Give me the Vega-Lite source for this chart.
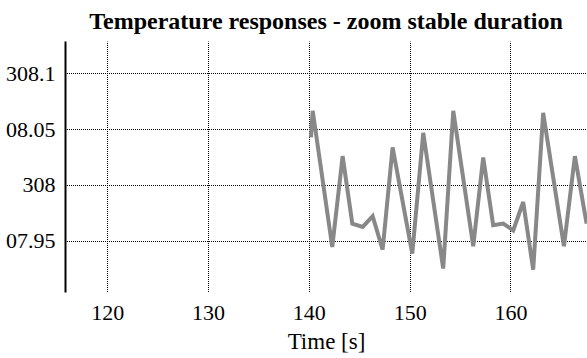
{
  "$schema": "https://vega.github.io/schema/vega-lite/v6.json",
  "width": 522,
  "height": 251,
  "autosize": {"type": "none"},
  "padding": {"left": 65, "top": 41, "right": 0, "bottom": 66},
  "background": "white",
  "title": {
    "text": "Temperature responses - zoom stable duration",
    "font": "Liberation Serif",
    "fontSize": 24,
    "fontWeight": "bold",
    "color": "black",
    "anchor": "middle",
    "offset": 7
  },
  "config": {
    "view": {"stroke": null},
    "axis": {
      "labelFont": "Liberation Serif",
      "labelFontSize": 22,
      "labelColor": "black",
      "titleFont": "Liberation Serif",
      "titleFontSize": 23,
      "titleFontWeight": "normal",
      "titleColor": "black",
      "gridColor": "black",
      "gridDash": [1, 1],
      "gridDashOffset": 0.5,
      "gridWidth": 1,
      "gridOpacity": 1,
      "ticks": false
    }
  },
  "datasets": {
    "temp": [
      {"t": 140.21, "T": 308.0426},
      {"t": 140.38, "T": 308.0664},
      {"t": 142.32, "T": 307.9443},
      {"t": 143.35, "T": 308.0258},
      {"t": 144.31, "T": 307.9653},
      {"t": 145.34, "T": 307.9623},
      {"t": 146.33, "T": 307.9719},
      {"t": 147.32, "T": 307.942},
      {"t": 148.31, "T": 308.0336},
      {"t": 150.26, "T": 307.9384},
      {"t": 151.35, "T": 308.0467},
      {"t": 153.33, "T": 307.925},
      {"t": 154.33, "T": 308.0664},
      {"t": 156.31, "T": 307.945},
      {"t": 157.30, "T": 308.0246},
      {"t": 158.29, "T": 307.9638},
      {"t": 159.29, "T": 307.9653},
      {"t": 160.28, "T": 307.9593},
      {"t": 161.27, "T": 307.9847},
      {"t": 162.26, "T": 307.924},
      {"t": 163.25, "T": 308.0646},
      {"t": 165.31, "T": 307.945},
      {"t": 166.40, "T": 308.0258},
      {"t": 167.56, "T": 307.9653}
    ]
  },
  "layer": [
    {
      "data": {"name": "temp"},
      "mark": {"type": "line", "color": "#888888", "strokeWidth": 4, "clip": true},
      "encoding": {
        "x": {
          "field": "t",
          "type": "quantitative",
          "scale": {"domain": [115.8, 167.6], "nice": false, "zero": false},
          "axis": {
            "title": "Time [s]",
            "values": [120, 130, 140, 150, 160],
            "format": "d",
            "domain": false,
            "labelFont": "Liberation Serif",
            "titleFont": "Liberation Serif",
            "labelPadding": 10,
            "titlePadding": 7
          }
        },
        "y": {
          "field": "T",
          "type": "quantitative",
          "scale": {"domain": [307.904, 308.129], "nice": false, "zero": false},
          "axis": {
            "title": null,
            "values": [307.95, 308, 308.05, 308.1],
            "labelExpr": "datum.value == 308.05 ? '08.05' : datum.value == 307.95 ? '07.95' : format(datum.value, '.5~r')",
            "labelFont": "Liberation Serif",
            "domainColor": "black",
            "domainWidth": 2,
            "labelPadding": 10
          }
        }
      }
    },
    {
      "mark": {"type": "rule", "color": "black", "strokeWidth": 4, "strokeDash": [19, 4.5]},
      "encoding": {"y": {"datum": 308}}
    },
    {
      "mark": {"type": "rule", "color": "black", "strokeWidth": 2},
      "encoding": {"y": {"datum": 308.129}}
    }
  ]
}
